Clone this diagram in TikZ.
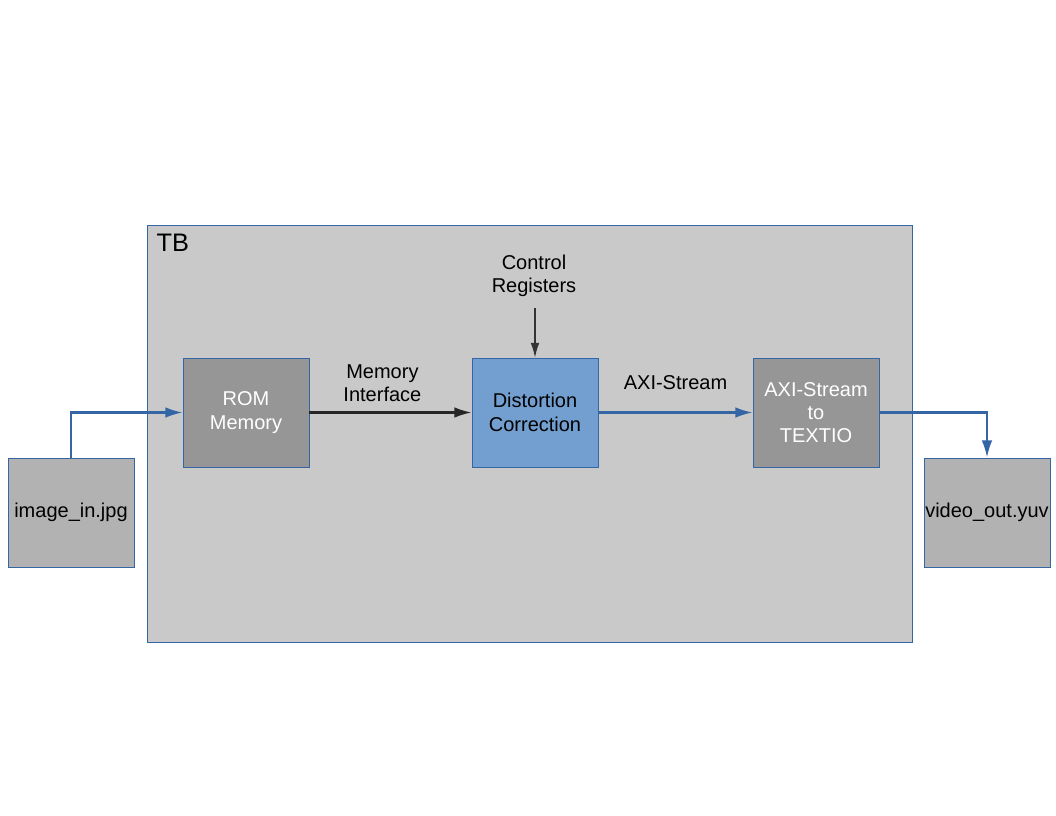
\documentclass[tikz,border=0pt]{standalone}
\usepackage{fontspec}
\setmainfont{Liberation Sans}
\usetikzlibrary{arrows.meta}
\definecolor{tbfill}{HTML}{C9C9C9}
\definecolor{edge}{HTML}{3465A4}
\definecolor{darkbox}{HTML}{969696}
\definecolor{filebox}{HTML}{B2B2B2}
\definecolor{dcblue}{HTML}{729FCF}
\begin{document}
\begin{tikzpicture}[x=0.75pt, y=-0.75pt,
  every node/.style={font=\fontsize{15}{17.5}\selectfont, align=center, text=black},
  block/.style={draw=edge, line width=0.6pt, minimum width=94.5pt, minimum height=81.75pt, inner sep=0pt},
  link/.style={-{Latex[length=13pt,width=8pt]}, line width=1.6pt}]
% Background
\fill[white] (0,0) rectangle (1056,816);
% Draw testbench
\draw[edge, fill=tbfill, line width=0.6pt] (147,225) rectangle (912,642);
\node[anchor=north west, font=\fontsize{19}{21}\selectfont] (tb) at (152,229) {TB};
% Draw blocks
\node[block, fill=filebox] (imgin) at (71,512.5) {image\_in.jpg};
\node[block, fill=darkbox, text=white] (rom) at (246,412.5) {ROM\\Memory};
\node[block, fill=dcblue] (dc) at (535,412.5) {Distortion\\Correction};
\node[block, fill=darkbox, text=white] (axi) at (816,412.5) {AXI-Stream\\to\\TEXTIO};
\node[block, fill=filebox] (vidout) at (987,512.5) {video\_out.yuv};
\node (ctrl) at (534,276) {Control\\Registers};
\coordinate (ctrltip) at (535,308);
% Draw arrows
\draw[link, edge] (imgin.north) |- (rom.west);
\draw[link, black!85] (rom.east) -- node[pos=0.45, above=4pt] {Memory\\Interface} (dc.west);
\draw[link, edge] (dc.east) -- node[above=13pt] {AXI-Stream} (axi.west);
\draw[link, edge] (axi.east) -| (vidout.north);
\draw[-{Latex[length=11pt,width=6.5pt]}, black!80, line width=1pt] (ctrltip) -- (dc.north);
\end{tikzpicture}
\end{document}
